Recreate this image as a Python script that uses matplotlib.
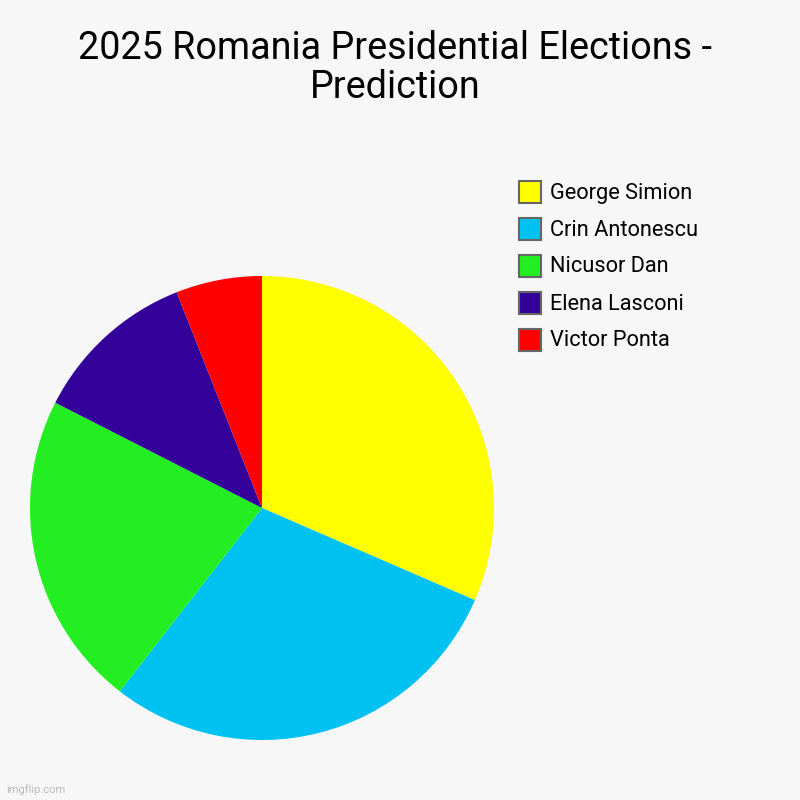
import matplotlib
matplotlib.use("Agg")
import matplotlib.pyplot as plt
from matplotlib.patches import Rectangle

labels = ["George Simion", "Crin Antonescu", "Nicusor Dan", "Elena Lasconi", "Victor Ponta"]
values = [31.5, 29.0, 22.0, 11.5, 6.0]
colors = ["#FFFF00", "#00C2F2", "#22EE22", "#330099", "#FF0000"]
title = "2025 Romania Presidential Elections -\nPrediction"

W = H = 800
bg = "#F7F7F7"
fig = plt.figure(figsize=(8, 8), dpi=100, facecolor=bg)

cx, cy, r = 262, 508, 232
ax = fig.add_axes([(cx - r) / W, 1 - (cy + r) / H, 2 * r / W, 2 * r / H])
ax.set_facecolor(bg)
ax.pie(values, colors=colors, startangle=90, counterclock=False, radius=1,
       wedgeprops=dict(linewidth=0))
ax.set_xlim(-1, 1)
ax.set_ylim(-1, 1)
ax.set_aspect("equal")
ax.axis("off")

fig.text(395 / W, 1 - 68 / H, title, ha="center", va="center", fontsize=27.2,
         family="Roboto", color="#000000", linespacing=1.1)

y0, dy = 192, 37
for i, (lab, col) in enumerate(zip(labels, colors)):
    yc = y0 + i * dy
    fig.patches.append(Rectangle((519 / W, 1 - (yc + 11) / H), 22 / W, 22 / H,
                                 transform=fig.transFigure, facecolor=col,
                                 edgecolor="#666666", linewidth=1.5))
    fig.text(550 / W, 1 - (yc + 1) / H, lab, ha="left", va="center", fontsize=15.7,
             family="Roboto", color="#000000")

fig.text(6 / W, 1 - 790 / H, "imgflip.com", ha="left", va="center", fontsize=8,
         family="Roboto", color="#BBBBBB")

fig.savefig("out.png", dpi=100, facecolor=bg)
